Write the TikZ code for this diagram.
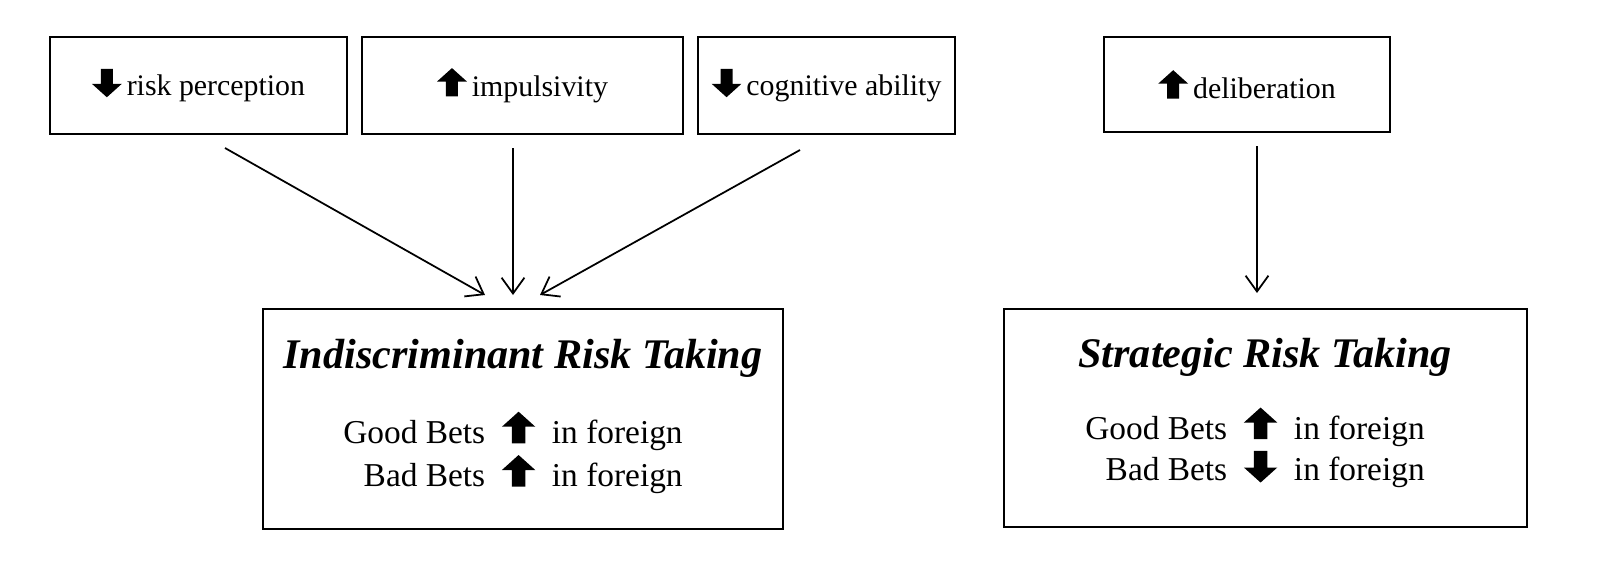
\documentclass[tikz,border=0pt]{standalone}
\usepackage{fontspec}
\setmainfont{Liberation Serif}
\usetikzlibrary{arrows.meta}
\newcommand\myup{\tikz[baseline=0pt,x=1em,y=1em]\fill (0,0)--(0,0.5)--(-0.3,0.5)--(0.2,0.95)--(0.7,0.5)--(0.4,0.5)--(0.4,0)--cycle;}
\newcommand\mydown{\tikz[baseline=0pt,x=1em,y=1em]\fill (0,0.9)--(0,0.4)--(-0.3,0.4)--(0.2,-0.05)--(0.7,0.4)--(0.4,0.4)--(0.4,0.9)--cycle;}
\begin{document}
\begin{tikzpicture}[x=0.02cm,y=-0.02cm,
  box/.style={draw,line width=1.3pt,inner sep=0},
  con/.style={-{Straight Barb[length=9pt,width=13pt,line width=1pt]},line width=1pt},
  top/.style={font=\fontsize{17}{20}\selectfont}]
\node[box,minimum width=297*0.02cm,minimum height=97*0.02cm] (a) at (198.5,85.5) {};
\node[top] at (a) {\mydown\,risk perception};
\node[box,minimum width=321*0.02cm,minimum height=97*0.02cm] (b) at (522.5,85.5) {};
\node[top] at (b) {\myup\,impulsivity};
\node[box,minimum width=257*0.02cm,minimum height=97*0.02cm] (c) at (826.5,85.5) {};
\node[top] at (c) {\mydown\,cognitive ability};
\node[box,minimum width=286*0.02cm,minimum height=95*0.02cm] (d) at (1247,84.5) {};
\node[top] at (d) {\myup\,deliberation};
\node[box,minimum width=520*0.02cm,minimum height=220*0.02cm] (e) at (523,419) {};
\node[box,minimum width=523*0.02cm,minimum height=218*0.02cm] (f) at (1265.5,418) {};
\node[font=\fontsize{24}{28}\selectfont\bfseries\itshape] at (523,358) {Indiscriminant Risk Taking};
\node[font=\fontsize{19}{22}\selectfont] at (513,455) {\begin{tabular}{@{}r@{\ \ }c@{\ \ }l@{}}Good Bets&\myup&in foreign\\Bad Bets&\myup&in foreign\end{tabular}};
\node[font=\fontsize{24}{28}\selectfont\bfseries\itshape] at (1265,357) {Strategic Risk Taking};
\node[font=\fontsize{19}{22}\selectfont] at (1255,450) {\begin{tabular}{@{}r@{\ \ }c@{\ \ }l@{}}Good Bets&\myup&in foreign\\Bad Bets&\mydown&in foreign\end{tabular}};
\coordinate (e1) at (485,295);\coordinate (e2) at (513,295);\coordinate (e3) at (540,295);\coordinate (f1) at (1257,293);
\coordinate (s1) at (225,148);\coordinate (s2) at (513,148);\coordinate (s3) at (800,150);\coordinate (s4) at (1257,146);
\draw[con] (s1) -- (e1);
\draw[con] (s2) -- (e2);
\draw[con] (s3) -- (e3);
\draw[con] (s4) -- (f1);
\pgfresetboundingbox
\useasboundingbox (0,0) rectangle (1600,579);
\end{tikzpicture}
\end{document}
